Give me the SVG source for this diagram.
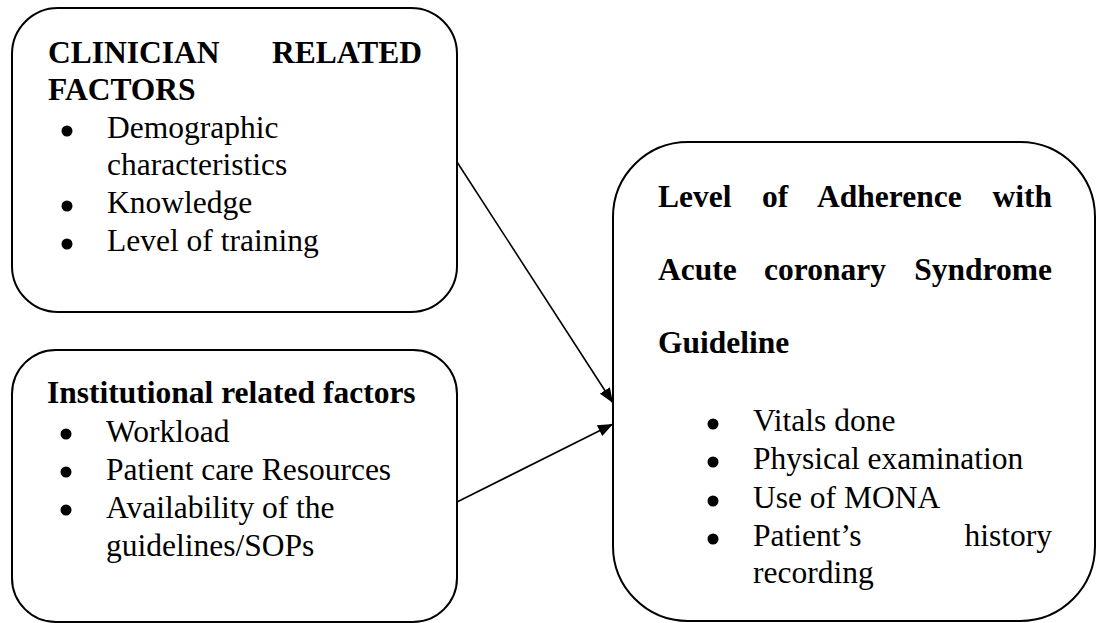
<svg xmlns="http://www.w3.org/2000/svg" width="1096" height="623" viewBox="0 0 1096 623">
<defs>
<marker id="ah" markerUnits="userSpaceOnUse" markerWidth="15" markerHeight="12" refX="15" refY="6" orient="auto">
<path d="M0,0 L15,6 L0,12 z" fill="#000"/>
</marker>
<style>
.box{fill:#fff;stroke:#000;stroke-width:2}
.t{font-family:"Liberation Serif","Times New Roman",serif;font-size:31.5px;fill:#000}
.b{font-weight:bold}
.dot{fill:#000}
.con{stroke:#000;stroke-width:1.6;fill:none}
</style>
</defs>
<rect width="1096" height="623" fill="#fff"/>
<g id="clinician">
<rect class="box" x="12" y="8" width="445" height="304" rx="46" ry="46"/>
<text class="t b" x="48" y="63">CLINICIAN</text>
<text class="t b" x="422" y="63" text-anchor="end">RELATED</text>
<text class="t b" x="48" y="100">FACTORS</text>
<circle class="dot" cx="67" cy="131" r="5.5"/>
<text class="t" x="107" y="138">Demographic</text>
<text class="t" x="107" y="175">characteristics</text>
<circle class="dot" cx="67" cy="206" r="5.5"/>
<text class="t" x="107" y="213">Knowledge</text>
<circle class="dot" cx="67" cy="244" r="5.5"/>
<text class="t" x="107" y="251">Level of training</text>
</g>
<g id="institutional">
<rect class="box" x="12" y="350" width="445" height="272" rx="44" ry="44"/>
<text class="t b" x="47" y="403">Institutional related factors</text>
<circle class="dot" cx="66" cy="434" r="5.5"/>
<text class="t" x="106" y="442">Workload</text>
<circle class="dot" cx="66" cy="472" r="5.5"/>
<text class="t" x="106" y="480">Patient care Resources</text>
<circle class="dot" cx="66" cy="510" r="5.5"/>
<text class="t" x="106" y="518">Availability of the</text>
<text class="t" x="106" y="556">guidelines/SOPs</text>
</g>
<g id="adherence">
<rect class="box" x="613" y="142" width="482" height="479" rx="75" ry="75"/>
<text class="t b" x="658" y="207">Level</text>
<text class="t b" x="762" y="207">of</text>
<text class="t b" x="817" y="207">Adherence</text>
<text class="t b" x="1052" y="207" text-anchor="end">with</text>
<text class="t b" x="658" y="280">Acute</text>
<text class="t b" x="764" y="280">coronary</text>
<text class="t b" x="1052" y="280" text-anchor="end">Syndrome</text>
<text class="t b" x="658" y="353">Guideline</text>
<circle class="dot" cx="713" cy="424" r="5.5"/>
<text class="t" x="753" y="431">Vitals done</text>
<circle class="dot" cx="713" cy="462" r="5.5"/>
<text class="t" x="753" y="469">Physical examination</text>
<circle class="dot" cx="713" cy="501" r="5.5"/>
<text class="t" x="753" y="508">Use of MONA</text>
<circle class="dot" cx="713" cy="539" r="5.5"/>
<text class="t" x="753" y="546">Patient’s</text>
<text class="t" x="1052" y="546" text-anchor="end">history</text>
<text class="t" x="753" y="583">recording</text>
</g>
<g id="connectors">
<line class="con" x1="457" y1="162" x2="613" y2="403" marker-end="url(#ah)"/>
<line class="con" x1="457" y1="502" x2="613" y2="424" marker-end="url(#ah)"/>
</g>
</svg>
